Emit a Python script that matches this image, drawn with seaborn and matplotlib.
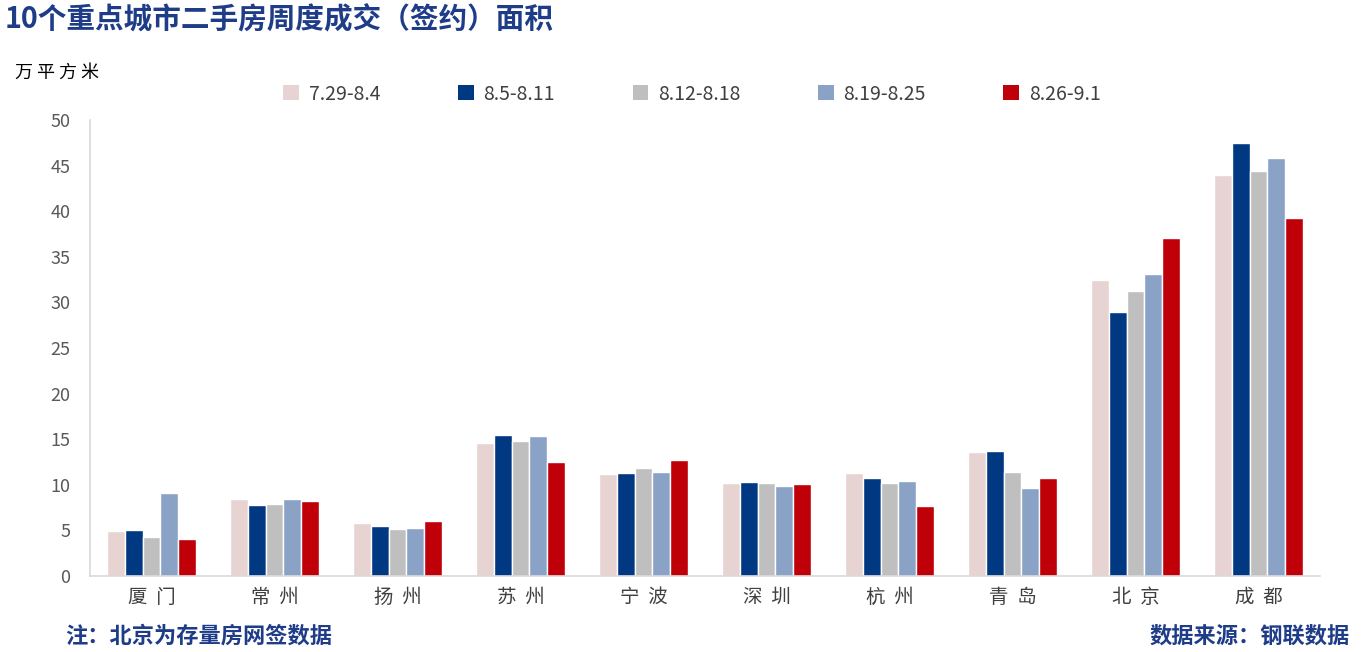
import matplotlib
matplotlib.use("Agg")
import matplotlib.pyplot as plt
import seaborn as sns
import pandas as pd

cities = ["厦门", "常州", "扬州", "苏州", "宁波", "深圳", "杭州", "青岛", "北京", "成都"]
weeks = ["7.29-8.4", "8.5-8.11", "8.12-8.18", "8.19-8.25", "8.26-9.1"]
w1 = [4.9, 8.4, 5.8, 14.6, 11.2, 10.2, 11.3, 13.6, 32.5, 44.0]
w2 = [5.0, 7.8, 5.5, 15.5, 11.3, 10.3, 10.8, 13.7, 29.0, 47.5]
w3 = [4.3, 7.9, 5.2, 14.8, 11.8, 10.2, 10.2, 11.4, 31.2, 44.4]
w4 = [9.1, 8.4, 5.3, 15.4, 11.4, 9.9, 10.4, 9.7, 33.1, 45.8]
w5 = [4.1, 8.2, 6.0, 12.5, 12.7, 10.1, 7.7, 10.8, 37.1, 39.3]
colors = ["#E8D3D3", "#003882", "#BFBFBF", "#8AA2C6", "#C00008"]

rows = []
for wk, vals in zip(weeks, [w1, w2, w3, w4, w5]):
    for c, v in zip(cities, vals):
        rows.append({"city": c, "week": wk, "value": v})
df = pd.DataFrame(rows)

sns.set_theme(style="white")
plt.rcParams['font.family'] = ['Noto Sans CJK SC', 'DejaVu Sans']

fig = plt.figure(figsize=(13.62, 6.52), dpi=100)
ax = fig.add_axes([90/1362, 1-576/652, 1230/1362, 456/652])
sns.barplot(data=df, x="city", y="value", hue="week", palette=colors,
            width=0.72, ax=ax, saturation=1, legend=False, errorbar=None)
ax.set_ylim(0, 50)
ax.set_xlim(-0.5, 9.5)
ax.set_yticks(range(0, 51, 5))
ax.set_xticks(range(len(cities)))
ax.set_xticklabels(["  ".join(c) for c in cities], fontsize=14, color="#404040")
ax.tick_params(axis='y', labelsize=13, labelcolor="#595959", length=0, pad=14)
ax.tick_params(axis='x', length=0, pad=8)
ax.set_xlabel("")
ax.set_ylabel("")
for s in ["top", "right"]:
    ax.spines[s].set_visible(False)
for s in ["left", "bottom"]:
    ax.spines[s].set_color("#D9D9D9")
    ax.spines[s].set_linewidth(1.2)

# legend
from matplotlib.patches import Patch
handles = [Patch(facecolor=c, edgecolor='none') for c in colors]
leg = fig.legend(handles, weeks, loc="center", bbox_to_anchor=(692/1362, 1-94/652),
                 ncol=5, frameon=False, fontsize=14, handlelength=0.8, handleheight=0.8,
                 columnspacing=4.0, handletextpad=0.5)
for t in leg.get_texts():
    t.set_color("#404040")

fig.text(5/1362, 1-19/652, "10个重点城市二手房周度成交（签约）面积", fontsize=20.6,
         fontweight="bold", color="#1F3C88", va="center", ha="left")
fig.text(15/1362, 1-73/652, "万 平 方 米", fontsize=13, color="#000000", va="center", ha="left")
fig.text(65/1362, 1-636/652, "注：北京为存量房网签数据", fontsize=16, fontweight="bold",
         color="#1F3C88", va="center", ha="left")
fig.text(1350/1362, 1-636/652, "数据来源：钢联数据", fontsize=16, fontweight="bold",
         color="#1F3C88", va="center", ha="right")

fig.savefig("out.png", dpi=100)
